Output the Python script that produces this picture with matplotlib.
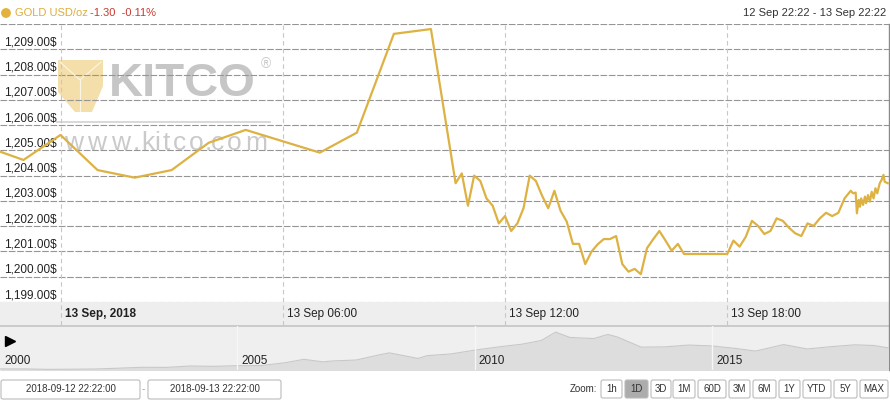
import numpy as np
import pandas as pd
import matplotlib
matplotlib.use('Agg')
import matplotlib.pyplot as plt
import matplotlib.dates as mdates
from matplotlib.patches import Rectangle, FancyBboxPatch, Polygon

plt.rcParams['font.family'] = ['Liberation Sans', 'DejaVu Sans']

# gold spot, 12 Sep 22:22 -> 13 Sep 22:22
times = ['09-12 22:22', '09-12 23:00', '09-13 00:00', '09-13 01:00', '09-13 02:00',
         '09-13 03:00', '09-13 04:00', '09-13 05:00', '09-13 07:00', '09-13 08:00',
         '09-13 09:00', '09-13 10:00', '09-13 10:40', '09-13 10:50', '09-13 11:00',
         '09-13 11:10', '09-13 11:20', '09-13 11:30', '09-13 11:40', '09-13 11:50',
         '09-13 12:00', '09-13 12:10', '09-13 12:20', '09-13 12:30', '09-13 12:40',
         '09-13 12:50', '09-13 13:00', '09-13 13:10', '09-13 13:20', '09-13 13:30',
         '09-13 13:40', '09-13 13:50', '09-13 14:00', '09-13 14:10', '09-13 14:20',
         '09-13 14:30', '09-13 14:40', '09-13 14:50', '09-13 15:00', '09-13 15:10',
         '09-13 15:20', '09-13 15:30', '09-13 15:40', '09-13 15:50', '09-13 16:00',
         '09-13 16:10', '09-13 16:20', '09-13 16:30', '09-13 16:40', '09-13 16:50',
         '09-13 18:00', '09-13 18:10', '09-13 18:20', '09-13 18:30', '09-13 18:40',
         '09-13 18:50', '09-13 19:00', '09-13 19:10', '09-13 19:20', '09-13 19:30',
         '09-13 19:40', '09-13 19:50', '09-13 20:00', '09-13 20:10', '09-13 20:20',
         '09-13 20:30', '09-13 20:40', '09-13 20:50', '09-13 21:00', '09-13 21:10',
         '09-13 21:20', '09-13 21:24', '09-13 21:28', '09-13 21:30', '09-13 21:33',
         '09-13 21:35', '09-13 21:37', '09-13 21:40', '09-13 21:43', '09-13 21:45',
         '09-13 21:48', '09-13 21:51', '09-13 21:54', '09-13 21:57', '09-13 22:00',
         '09-13 22:03', '09-13 22:07', '09-13 22:10', '09-13 22:13', '09-13 22:15',
         '09-13 22:20']
prices = [1204.95, 1204.62, 1205.61, 1204.22, 1203.92,
          1204.22, 1205.30, 1205.81, 1204.91, 1205.70,
          1209.61, 1209.80, 1203.70, 1204.09, 1202.81,
          1204.00, 1203.79, 1203.10, 1202.81, 1202.11,
          1202.40, 1201.81, 1202.11, 1202.71, 1204.00,
          1203.79, 1203.21, 1202.71, 1203.40, 1202.61,
          1202.18, 1201.30, 1201.30, 1200.50, 1200.99,
          1201.28, 1201.49, 1201.49, 1201.61, 1200.50,
          1200.20, 1200.31, 1200.10, 1201.13, 1201.48,
          1201.81, 1201.43, 1201.03, 1201.30, 1200.90,
          1200.90, 1201.43, 1201.19, 1201.58, 1202.21,
          1202.01, 1201.69, 1201.81, 1202.31, 1202.21,
          1201.94, 1201.72, 1201.61, 1202.11, 1202.01,
          1202.31, 1202.53, 1202.40, 1202.53, 1203.10,
          1203.40, 1203.30, 1203.33, 1202.51, 1203.04,
          1202.77, 1203.10, 1202.84, 1203.17, 1202.91,
          1203.23, 1202.97, 1203.36, 1203.10, 1203.50,
          1203.30, 1203.70, 1203.83, 1204.03, 1203.76,
          1203.70]

y_ticks = list(range(1199, 1210))
x_ticks = ['2018-09-13 00:00', '2018-09-13 06:00', '2018-09-13 12:00', '2018-09-13 18:00']
x_labels = ['13 Sep, 2018', '13 Sep 06:00', '13 Sep 12:00', '13 Sep 18:00']

# navigator (long-term gold price)
nav_years = [2000.0, 2000.5, 2001.0, 2001.5, 2002.0, 2002.5, 2003.0, 2003.5, 2004.0, 2004.5,
             2005.0, 2005.5, 2006.0, 2006.4, 2006.8, 2007.0, 2007.5, 2008.0, 2008.2, 2008.8,
             2009.0, 2009.5, 2010.0, 2010.5, 2011.0, 2011.4, 2011.7, 2012.0, 2012.5, 2012.8,
             2013.0, 2013.5, 2014.0, 2014.5, 2015.0, 2015.5, 2015.9, 2016.0, 2016.5, 2017.0,
             2017.5, 2018.0, 2018.4, 2018.7]
nav_prices = [285, 285, 265, 270, 280, 315, 355, 350, 410, 395,
              425, 430, 550, 700, 590, 630, 670, 900, 980, 740,
              860, 935, 1100, 1240, 1360, 1520, 1880, 1650, 1600, 1780,
              1670, 1230, 1240, 1320, 1280, 1170, 1060, 1100, 1340, 1150,
              1250, 1330, 1300, 1200]
nav_marks = [2005, 2010, 2015]

gold = '#DDB243'
W, H = 890, 400

fig = plt.figure(figsize=(8.9, 4.0), dpi=100)
fig.patch.set_facecolor('white')

# background layer in pixel coords
bg = fig.add_axes([0, 0, 1, 1], zorder=0)
bg.set_xlim(0, W)
bg.set_ylim(H, 0)
bg.axis('off')

# watermark
bg.add_patch(Polygon([(58, 60), (103, 60), (103, 86), (92, 112), (75, 112), (58, 92)],
                     closed=True, facecolor='#F4DFAA', edgecolor='none'))
bg.plot([60, 80, 101], [62, 80, 62], color='white', lw=0.8, alpha=0.7)
bg.plot([80, 80], [80, 112], color='white', lw=0.8, alpha=0.7)
bg.text(109, 96, 'KITCO', fontsize=34, fontweight='bold', color='#C6C6C6', ha='left', va='baseline')
bg.text(261, 68, '®', fontsize=10, color='#C8C8C8', ha='left', va='baseline')
bg.plot([57, 270], [122, 122], color='#D8D8D8', lw=1.4)
wm = 'www.kitco.com'
wm_x = [74, 97, 121, 136, 148, 157, 166, 179, 196, 208, 218, 234, 256]
for ch, cx in zip(wm, wm_x):
    bg.text(cx, 150, ch, fontsize=19, color='#CACACA', ha='center', va='baseline')

# x-axis band and navigator background
bg.add_patch(Rectangle((0, 302), 889, 23, facecolor='#EEEEEE', edgecolor='none'))
bg.add_patch(Rectangle((0, 325), 889, 45, facecolor='#EFEFEF', edgecolor='none'))
bg.plot([0, 889], [325.5, 325.5], color='#C4C4C4', lw=1.2)
bg.plot([888.5, 888.5], [24, 370], color='#8A8A8A', lw=1.0, zorder=5)

# header
bg.add_patch(plt.Circle((6, 13), 4.2, color='#E3B23C'))
bg.text(15, 13.5, 'GOLD USD/oz', fontsize=8, color='#DDAD3A', va='center', ha='left')
bg.text(90, 13.5, '-1.30  -0.11%', fontsize=8, color='#C83A30', va='center', ha='left')
bg.text(886, 13.5, '12 Sep 22:22 - 13 Sep 22:22', fontsize=8, color='#333333', va='center', ha='right')

# bottom controls
for x0, w, s in [(1, 139, '2018-09-12 22:22:00'), (148, 133, '2018-09-13 22:22:00')]:
    bg.add_patch(FancyBboxPatch((x0, 380), w, 19, boxstyle='round,pad=0,rounding_size=2',
                                facecolor='white', edgecolor='#BBBBBB', lw=0.8))
    bg.text(x0 + w / 2, 389.5, s, fontsize=7, color='#333333', ha='center', va='center')
bg.text(143.5, 389, '-', fontsize=7, color='#999999', ha='center', va='center')
bg.text(597, 389.5, 'Zoom:', fontsize=7, color='#333333', ha='right', va='center')
buttons = [('1h', 601, 21), ('1D', 625, 23), ('3D', 651, 20), ('1M', 673, 22), ('60D', 698, 28),
           ('3M', 729, 21), ('6M', 753, 23), ('1Y', 779, 21), ('YTD', 803, 28), ('5Y', 834, 23),
           ('MAX', 860, 28)]
for s, x0, w in buttons:
    fc = '#ACACAC' if s == '1D' else 'white'
    bg.add_patch(FancyBboxPatch((x0, 380), w, 18, boxstyle='round,pad=0,rounding_size=2',
                                facecolor=fc, edgecolor='#BBBBBB', lw=0.8))
    bg.text(x0 + w / 2, 389.5, s, fontsize=7, color='#333333', ha='center', va='center')

# main chart
t = pd.to_datetime(['2018-' + s for s in times])
ax = fig.add_axes([0, 1 - 302 / H, 889 / W, 278 / H], zorder=2)
ax.set_facecolor('none')
ax.set_xlim(pd.Timestamp('2018-09-12 22:22'), pd.Timestamp('2018-09-13 22:22'))
ax.set_ylim(1199, 1210)
for s in ax.spines.values():
    s.set_visible(False)
ax.set_xticks([])
ax.set_yticks([])

for v in y_ticks + [1210]:
    ax.axhline(v, color='#959595', lw=0.8, linestyle=(0, (6, 1.5)), zorder=1)
    if v < 1210:
        ax.annotate(f'{v:,.2f}$', xy=(0, v), xycoords=('axes fraction', 'data'),
                    xytext=(4, 1), textcoords='offset pixels', fontsize=8.5, color='#222222',
                    ha='left', va='bottom')

for tk, lab in zip(x_ticks, x_labels):
    tv = pd.Timestamp(tk)
    ax.axvline(tv, ymin=-23 / 278, ymax=1, color='#C4C4DE', lw=0.8,
               linestyle=(0, (4, 3)), clip_on=False, zorder=1)
    ax.annotate(lab, xy=(tv, 0), xycoords=('data', 'axes fraction'), xytext=(4, -12),
                textcoords='offset pixels', fontsize=8.5, color='#222222', ha='left', va='center',
                fontweight='bold' if lab.endswith('2018') else 'normal', annotation_clip=False)

ax.plot(t, prices, color=gold, lw=1.6, zorder=3)

# navigator
nav = fig.add_axes([0, 1 - 370 / H, 889 / W, 44 / H], zorder=2)
nav.set_facecolor('none')
nav.fill_between(nav_years, nav_prices, 0, color='#DDDDDD', lw=0)
nav.plot(nav_years, nav_prices, color='#C8C8C8', lw=0.8)
nav.set_xlim(2000, 2018.72)
nav.set_ylim(237, 2146)
for s in nav.spines.values():
    s.set_visible(False)
nav.set_xticks([])
nav.set_yticks([])
for yr in nav_marks:
    nav.axvline(yr, color='#F6F6F6', lw=1.0)
for yr in [2000] + nav_marks:
    nav.annotate(str(yr), xy=(yr, 0), xycoords=('data', 'axes fraction'), xytext=(4, 9),
                 textcoords='offset pixels', fontsize=8.5, color='#222222', ha='left', va='center')
nav.plot([0.011], [0.66], marker='>', color='black', markersize=7, transform=nav.transAxes)

fig.savefig('out.png', dpi=100)
